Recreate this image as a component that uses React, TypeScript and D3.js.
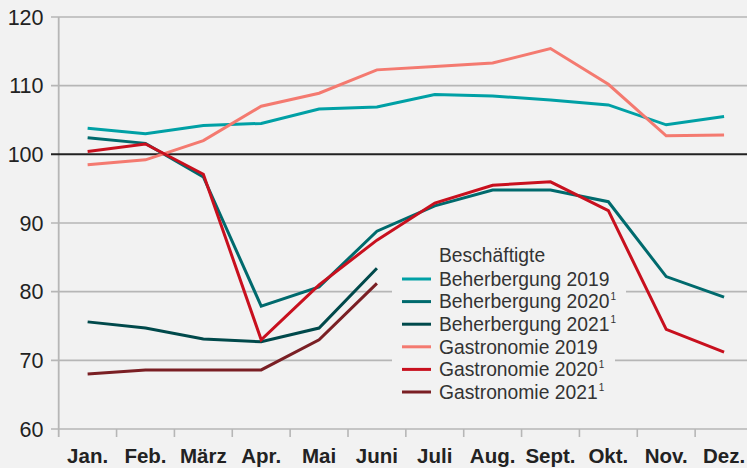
import React from "react";
import * as d3 from "d3";

const months = ["Jan.", "Feb.", "März", "Apr.", "Mai", "Juni", "Juli", "Aug.", "Sept.", "Okt.", "Nov.", "Dez."];
const yTicks = [60, 70, 80, 90, 100, 110, 120];

const beherbergung2019 = [103.8, 103.0, 104.2, 104.5, 106.6, 106.9, 108.7, 108.5, 107.9, 107.2, 104.3, 105.5];
const beherbergung2020 = [102.4, 101.6, 96.7, 77.9, 80.7, 88.8, 92.5, 94.8, 94.8, 93.1, 82.2, 79.2];
const beherbergung2021 = [75.6, 74.7, 73.1, 72.7, 74.7, 83.4];
const gastronomie2019 = [98.5, 99.2, 102.0, 107.0, 108.9, 112.3, 112.8, 113.3, 115.4, 110.2, 102.7, 102.8];
const gastronomie2020 = [100.4, 101.5, 97.1, 73.0, 81.0, 87.5, 92.9, 95.5, 96.0, 91.8, 74.5, 71.2];
const gastronomie2021 = [68.0, 68.6, 68.6, 68.6, 73.0, 81.2];

const series = [
  { name: "Beherbergung 2019", sup: "", values: beherbergung2019, color: "#00a0a5" },
  { name: "Beherbergung 2020", sup: "1", values: beherbergung2020, color: "#006a6d" },
  { name: "Beherbergung 2021", sup: "1", values: beherbergung2021, color: "#00494b" },
  { name: "Gastronomie 2019", sup: "", values: gastronomie2019, color: "#f47a70" },
  { name: "Gastronomie 2020", sup: "1", values: gastronomie2020, color: "#c8101e" },
  { name: "Gastronomie 2021", sup: "1", values: gastronomie2021, color: "#7a1f24" },
];

const W = 747;
const H = 468;
const left = 58.7;
const right = 753;
const top = 17;
const bottom = 429;

export default function App() {
  const x = d3.scaleBand<string>().domain(months).range([left, right]);
  const y = d3.scaleLinear().domain([60, 120]).range([bottom, top]);
  const line = d3
    .line<number>()
    .x((_, i) => (x(months[i]) as number) + x.bandwidth() / 2)
    .y((d) => y(d));

  const gridColor = "#b6b6b6";
  const boundaries = months.map((m) => x(m) as number).concat([right]);

  return (
    <svg
      width={W}
      height={H}
      style={{ position: "absolute", left: 0, top: 0, background: "#f2f2f2" }}
      fontFamily="'Liberation Sans', Arial, Helvetica, sans-serif"
    >
      <rect x={0} y={0} width={W} height={H} fill="#f2f2f2" />
      {yTicks.map((t) =>
        t === 100 ? null : (
          <line key={t} x1={51} x2={W} y1={y(t)} y2={y(t)} stroke={gridColor} strokeWidth={1.6} />
        )
      )}
      <line x1={left} x2={left} y1={top} y2={bottom + 8} stroke={gridColor} strokeWidth={1.8} />
      {boundaries.slice(1).map((b, i) => (
        <line key={i} x1={b} x2={b} y1={bottom} y2={bottom + 8} stroke={gridColor} strokeWidth={1.6} />
      ))}
      <rect x={392} y={240} width={234} height={90} fill="#f2f2f2" />
      <rect x={392} y={330} width={223} height={72} fill="#f2f2f2" />
      <line x1={51} x2={W} y1={y(100)} y2={y(100)} stroke="#222" strokeWidth={2} />
      {yTicks.map((t) => (
        <text key={t} x={43.5} y={y(t)} dy="0.36em" textAnchor="end" fontSize={21.5} fill="#222">
          {t}
        </text>
      ))}
      {months.map((m) => (
        <text
          key={m}
          x={(x(m) as number) + x.bandwidth() / 2}
          y={463}
          textAnchor="middle"
          fontSize={20.5}
          fontWeight="bold"
          fill="#222"
        >
          {m}
        </text>
      ))}
      {series.map((s) => (
        <path key={s.name} d={line(s.values) || ""} fill="none" stroke={s.color} strokeWidth={3} strokeLinejoin="miter" />
      ))}
      <text x={439} y={262} fontSize={19.3} fill="#333">
        Beschäftigte
      </text>
      {series.map((s, i) => {
        const cy = 279 + i * 22.6;
        return (
          <g key={s.name}>
            <line x1={402} x2={431} y1={cy} y2={cy} stroke={s.color} strokeWidth={3} />
            <text x={439} y={cy + 6.7} fontSize={19.3} fill="#333">
              {s.name}
              {s.sup ? (
                <tspan fontSize={10} dx={1} dy={-8}>
                  {s.sup}
                </tspan>
              ) : null}
            </text>
          </g>
        );
      })}
    </svg>
  );
}
